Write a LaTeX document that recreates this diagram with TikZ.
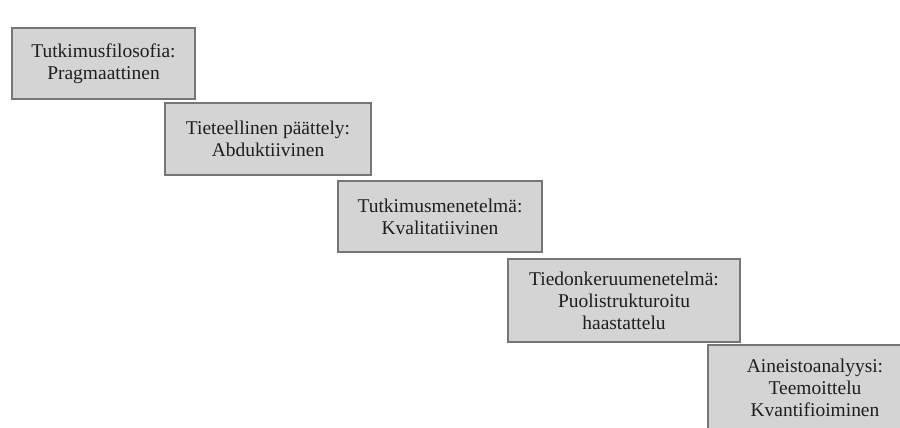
\documentclass[tikz,border=0pt]{standalone}
\usepackage{fontspec}
\setmainfont{Liberation Serif}
\definecolor{boxfill}{RGB}{212,212,212}
\definecolor{boxline}{RGB}{118,118,118}
\definecolor{txt}{RGB}{30,30,30}
\tikzset{
  stepbox/.style={draw=boxline, line width=2.2pt, fill=boxfill, inner sep=0pt,
    align=center, text=txt,
    font=\fontsize{14.6pt}{16.5pt}\selectfont}
}
\begin{document}
\begin{tikzpicture}[x=0.75pt,y=-0.75pt]
\useasboundingbox (0,0) rectangle (900,428);
\clip (0,0) rectangle (900,428);
\fill[white] (0,0) rectangle (900,428);
\node[stepbox, minimum width=183*0.75pt, minimum height=71*0.75pt] (b1) at (103.5,63.5) {Tutkimusfilosofia:\\Pragmaattinen};
\node[stepbox, minimum width=206*0.75pt, minimum height=72*0.75pt] (b2) at (268,139) {Tieteellinen päättely:\\Abduktiivinen};
\node[stepbox, minimum width=204*0.75pt, minimum height=71*0.75pt] (b3) at (440,216.5) {Tutkimusmenetelmä:\\Kvalitatiivinen};
\node[stepbox, minimum width=232*0.75pt, minimum height=83*0.75pt] (b4) at (624,300.5) {Tiedonkeruumenetelmä:\\Puolistrukturoitu\\haastattelu};
\node[stepbox, minimum width=214*0.75pt, minimum height=86*0.75pt] (b5) at (815,388) {Aineistoanalyysi:\\Teemoittelu\\Kvantifioiminen};
\end{tikzpicture}
\end{document}
